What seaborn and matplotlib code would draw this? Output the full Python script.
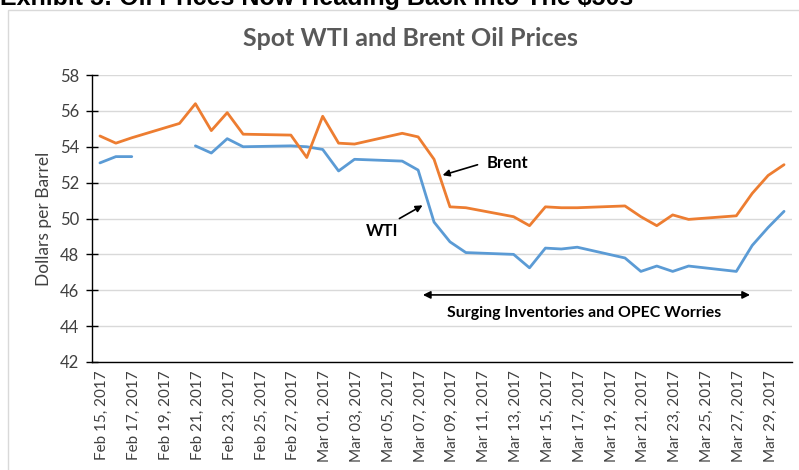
import numpy as np
import pandas as pd
import matplotlib
matplotlib.use("Agg")
import matplotlib.pyplot as plt
import matplotlib.patches as mpatches
import seaborn as sns

# ---- data ----
tick_labels = ["Feb 15, 2017", "Feb 17, 2017", "Feb 19, 2017", "Feb 21, 2017", "Feb 23, 2017",
               "Feb 25, 2017", "Feb 27, 2017", "Mar 01, 2017", "Mar 03, 2017", "Mar 05, 2017",
               "Mar 07, 2017", "Mar 09, 2017", "Mar 11, 2017", "Mar 13, 2017", "Mar 15, 2017",
               "Mar 17, 2017", "Mar 19, 2017", "Mar 21, 2017", "Mar 23, 2017", "Mar 25, 2017",
               "Mar 27, 2017", "Mar 29, 2017"]
# trading days, as day offsets from Feb 15, 2017
trade_days = [0, 1, 2, 5, 6, 7, 8, 9, 12, 13, 14, 15, 16, 19, 20, 21, 22, 23,
              26, 27, 28, 29, 30, 33, 34, 35, 36, 37, 40, 41, 42, 43]
brent = [54.6, 54.2, 54.5, 55.3, 56.4, 54.9, 55.9, 54.7, 54.65, 53.4, 55.7, 54.2, 54.15,
         54.75, 54.55, 53.3, 50.65, 50.6, 50.1, 49.6, 50.65, 50.6, 50.6, 50.7, 50.1, 49.6,
         50.2, 49.95, 50.15, 51.4, 52.4, 53.0]
wti = [53.1, 53.45, 53.45, np.nan, 54.05, 53.65, 54.45, 54.0, 54.05, 54.0, 53.85, 52.65,
       53.3, 53.2, 52.7, 49.8, 48.7, 48.1, 48.0, 47.25, 48.35, 48.3, 48.4, 47.8, 47.05,
       47.35, 47.05, 47.35, 47.05, 48.5, 49.5, 50.4]
y_ticks = [42, 44, 46, 48, 50, 52, 54, 56, 58]

# ---- long table, with segment ids so that missing values make gaps ----
rows = []
for name, vals in (("WTI", wti), ("Brent", brent)):
    seg = 0
    for d, v in zip(trade_days, vals):
        if np.isnan(v):
            seg += 1
            continue
        rows.append({"day": d, "price": v, "series": name, "seg": f"{name}{seg}"})
df = pd.DataFrame(rows)

sns.set_theme(style="white")
plt.rcParams["font.family"] = ["Lato", "DejaVu Sans"]

fig = plt.figure(figsize=(7.99, 4.70), dpi=100)
ax = fig.add_axes([92 / 799, 1 - 362 / 470, 700 / 799, 287 / 470])

palette = {"WTI": "#5B9BD5", "Brent": "#ED7D31"}
sns.lineplot(data=df, x="day", y="price", hue="series", units="seg", estimator=None,
             palette=palette, linewidth=2.0, legend=False, ax=ax, sort=True)

ax.set_xlim(-0.5, 43.5)
ax.set_ylim(42, 58)
ax.set_yticks(y_ticks)
ax.set_yticklabels([str(v) for v in y_ticks])
ax.grid(axis="y", color="#d9d9d9", linewidth=1.0)
ax.grid(axis="x", visible=False)
for s in ("top", "right"):
    ax.spines[s].set_visible(False)
for s in ("left", "bottom"):
    ax.spines[s].set_color("black")
    ax.spines[s].set_linewidth(1.0)

# x: labels on every second day, tick marks on the boundaries between
label_pos = np.arange(0, 44, 2)
ax.set_xticks(label_pos + 0.15)
ax.set_xticklabels(tick_labels, rotation=90, fontsize=11, color="#404040")
ax.set_xticks(np.arange(-0.5, 43.6, 2), minor=True)
ax.tick_params(axis="x", which="major", length=0, pad=6)
ax.tick_params(axis="x", which="minor", length=5, width=1, color="black", direction="out")
ax.tick_params(axis="y", which="major", length=8, width=1, color="black", direction="inout",
               labelsize=12, labelcolor="#404040", pad=5, left=True)
ax.set_xlabel("")
ax.set_ylabel("Dollars per Barrel", fontsize=12.5, color="#404040", labelpad=6)

# annotations
ax.annotate("", xy=(21.37, 52.37), xytext=(23.9, 53.04),
            arrowprops=dict(arrowstyle="-|>", color="black", lw=1.2, mutation_scale=10))
ax.text(25.6, 53.1, "Brent", ha="center", va="center", fontsize=12, fontweight="bold",
        color="black")
ax.annotate("", xy=(20.43, 50.81), xytext=(18.67, 49.92),
            arrowprops=dict(arrowstyle="-|>", color="black", lw=1.2, mutation_scale=10))
ax.text(17.73, 49.3, "WTI", ha="center", va="center", fontsize=12, fontweight="bold",
        color="black")
ax.annotate("", xy=(40.86, 45.74), xytext=(20.3, 45.74),
            arrowprops=dict(arrowstyle="<|-|>", color="black", lw=1.2, mutation_scale=11,
                            shrinkA=0, shrinkB=0))
ax.text(30.42, 44.73, "Surging Inventories and OPEC Worries", ha="center", va="center",
        fontsize=11.4, fontweight="bold", color="black")

# title and frame
fig.text(410 / 799, 1 - 38 / 470, "Spot WTI and Brent Oil Prices", ha="center", va="center",
         fontsize=18, fontweight="bold", color="#595959")
fig.patches.append(mpatches.Rectangle((8 / 799, -0.1), 1.2, 1 - 10 / 470 + 0.1,
                                      transform=fig.transFigure, fill=False,
                                      edgecolor="#d9d9d9", linewidth=1.0))
fig.text(0.0, 1 - 5 / 470, "Exhibit 5: Oil Prices Now Heading Back Into The $50s",
         ha="left", va="baseline", fontsize=18, fontweight="bold", color="black",
         family=["Liberation Sans", "DejaVu Sans"])

fig.savefig("out.png", dpi=100)
